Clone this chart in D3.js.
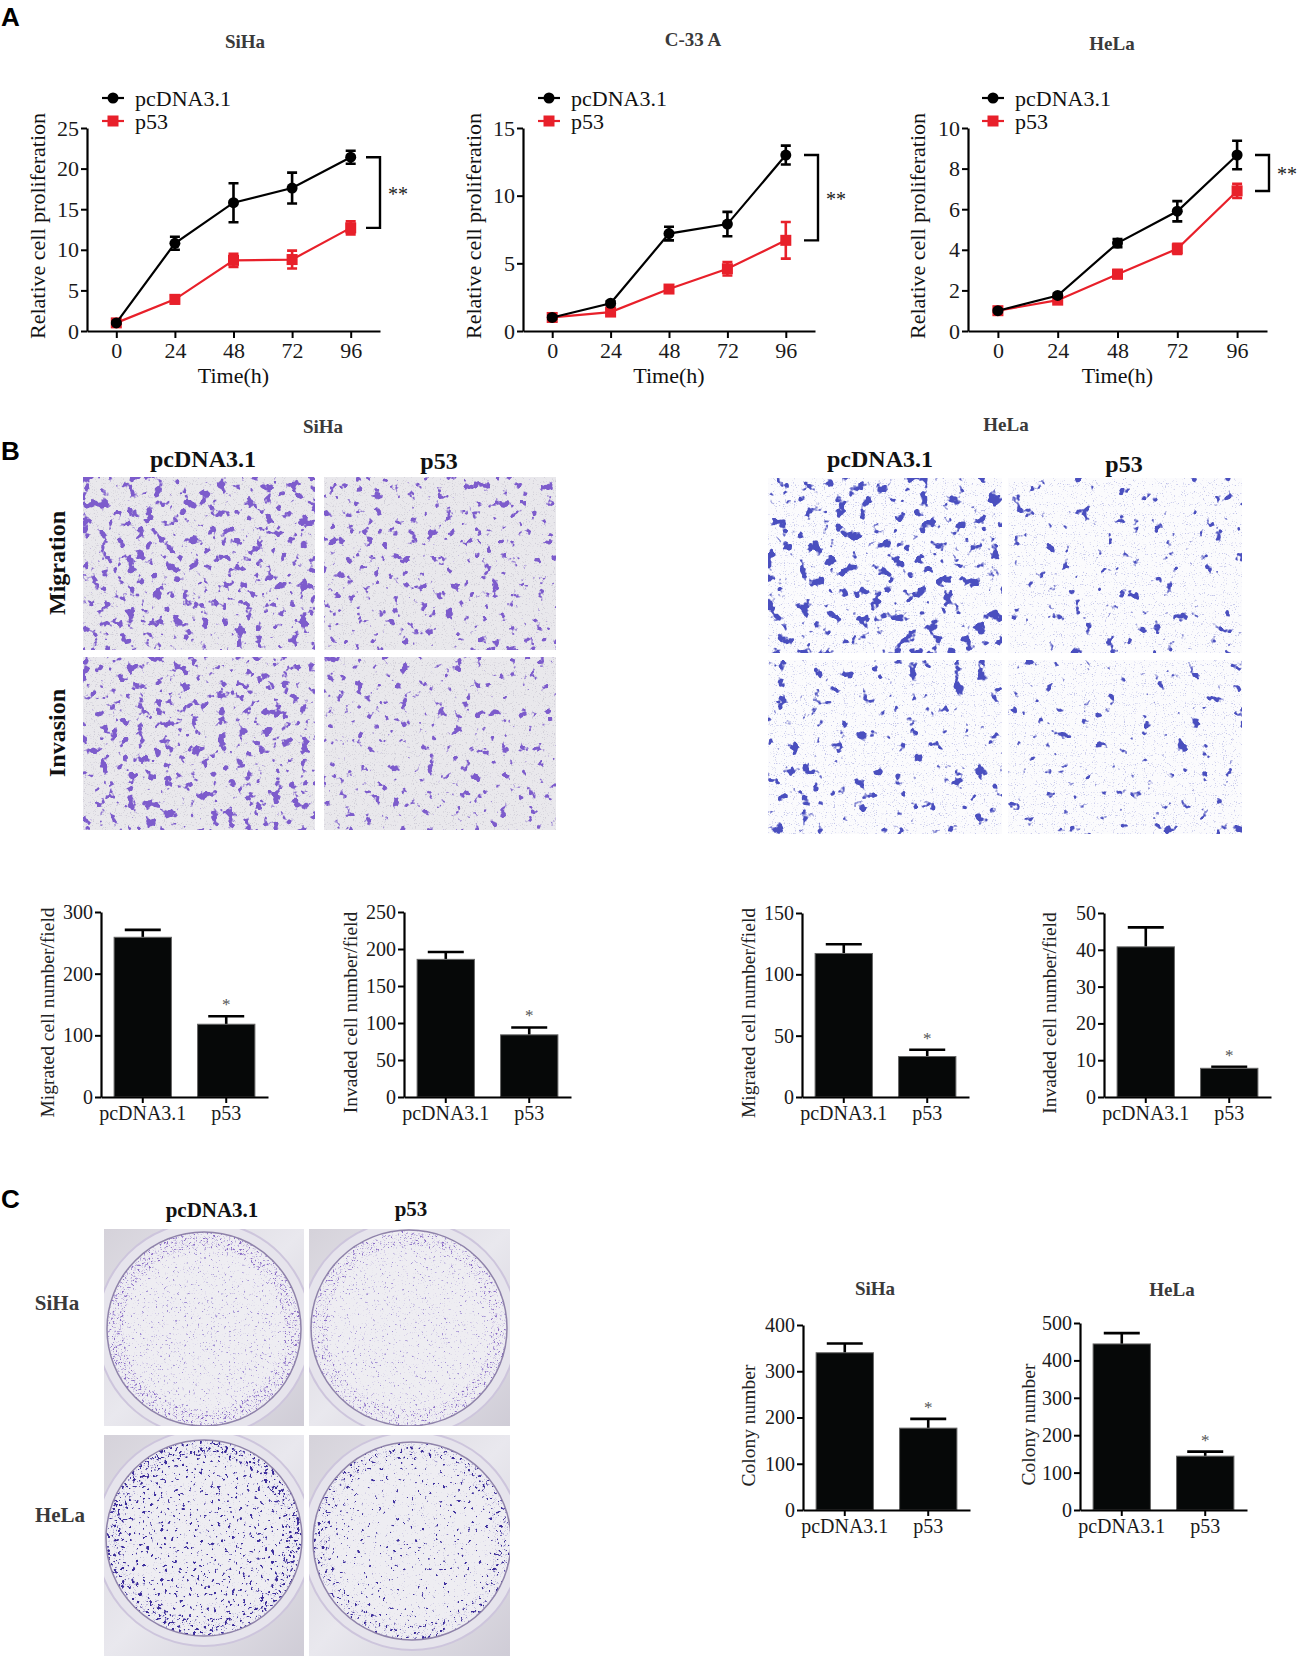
<!DOCTYPE html>
<html>
<head>
<meta charset="utf-8">
<script src="https://cdn.jsdelivr.net/npm/d3@7"></script>
<style>
  body { margin: 0; background: #fff; }
  svg { display: block; }
  text { font-family: "Liberation Serif", "Times New Roman", serif; }
</style>
</head>
<body>
<div id="app"></div>
<script>
// ---- data ----
const hours = [0, 24, 48, 72, 96]
const groups = ["pcDNA3.1", "p53"]

// A: relative cell proliferation
const sihaCtrl = [1, 10.8, 15.8, 17.6, 21.4]
const sihaCtrlErr = [0.1, 0.8, 2.4, 1.9, 0.8]
const sihaP53 = [1, 3.9, 8.7, 8.8, 12.7]
const sihaP53Err = [0.1, 0.5, 0.8, 1.1, 0.8]

const c33Ctrl = [1, 2.05, 7.2, 7.9, 13.0]
const c33CtrlErr = [0.1, 0.15, 0.5, 0.9, 0.7]
const c33P53 = [1, 1.4, 3.1, 4.6, 6.7]
const c33P53Err = [0.1, 0.15, 0.2, 0.5, 1.35]

const helaCtrl = [1, 1.75, 4.33, 5.9, 8.67]
const helaCtrlErr = [0.05, 0.1, 0.2, 0.5, 0.7]
const helaP53 = [1, 1.52, 2.8, 4.05, 6.9]
const helaP53Err = [0.05, 0.1, 0.2, 0.25, 0.35]

const sihaProlTicks = [0, 5, 10, 15, 20, 25]
const c33ProlTicks = [0, 5, 10, 15]
const helaProlTicks = [0, 2, 4, 6, 8, 10]

// B: transwell counts
const sihaMigrated = [259, 118]
const sihaMigratedErr = [12, 13]
const sihaInvaded = [186, 84]
const sihaInvadedErr = [10, 10]
const helaMigrated = [117, 33]
const helaMigratedErr = [7.5, 5.5]
const helaInvaded = [40.8, 7.8]
const helaInvadedErr = [5.3, 0.4]

const sihaMigTicks = [0, 100, 200, 300]
const sihaInvTicks = [0, 50, 100, 150, 200, 250]
const helaMigTicks = [0, 50, 100, 150]
const helaInvTicks = [0, 10, 20, 30, 40, 50]

// C: colony formation
const sihaColony = [340, 177]
const sihaColonyErr = [20, 20]
const helaColony = [444, 144]
const helaColonyErr = [29, 12]

const sihaColTicks = [0, 100, 200, 300, 400]
const helaColTicks = [0, 100, 200, 300, 400, 500]

// ---- drawing ----
const red = "#e8202a"
const titleColor = "#3a3a3a"
const serif = '"Liberation Serif", "Times New Roman", serif'

const svg = d3.select('#app').append('svg')
    .attr('width', 1299)
    .attr('height', 1656)
const defs = svg.append('defs')

function styleAxis(g, size) {
  g.attr('font-size', size).style('font-family', serif)
  g.select('.domain').attr('stroke-width', 2.2)
  g.selectAll('.tick line').attr('stroke-width', 2)
  g.selectAll('.tick text').attr('fill', '#1a1a1a')
}

function panelLetter(t, x, y) {
  svg.append('text').attr('x', x).attr('y', y).text(t)
    .style('font-family', 'Arial, "Liberation Sans", sans-serif')
    .attr('font-weight', 'bold').attr('font-size', 26)
}

function label(t, x, y, size, opts = {}) {
  const el = svg.append('text').text(t)
    .attr('font-size', size)
    .attr('text-anchor', 'middle')
    .attr('fill', opts.color || '#111')
    .attr('font-weight', opts.bold ? 'bold' : null)
  if (opts.rotate) {
    el.attr('transform', `translate(${x},${y}) rotate(-90)`)
      .attr('dominant-baseline', 'central')
  } else {
    el.attr('x', x).attr('y', y)
  }
  return el
}

// ---------- A: line charts ----------
function lineChart(o) {
  const g = svg.append('g')
  const x = d3.scaleLinear().domain([-12, 108]).range([o.left, o.right])
  const y = d3.scaleLinear().domain([0, o.ymax]).range([331, 128])

  g.append('g').attr('transform', `translate(${o.left},0)`)
    .call(d3.axisLeft(y).tickValues(o.yticks).tickSize(6).tickSizeOuter(0).tickPadding(2))
    .call(a => styleAxis(a, 22))
  g.append('g').attr('transform', 'translate(0,331)')
    .call(d3.axisBottom(x).tickValues(hours).tickSize(7).tickSizeOuter(0).tickPadding(4))
    .call(a => styleAxis(a, 22))

  const series = [
    { vals: o.p53, errs: o.p53Err, color: red, shape: 'square' },
    { vals: o.ctrl, errs: o.ctrlErr, color: '#000', shape: 'circle' }
  ]
  const line = d3.line().x((d, i) => x(hours[i])).y(d => y(d))

  series.forEach(s => {
    const sg = g.append('g')
    sg.append('path').datum(s.vals).attr('d', line)
      .attr('fill', 'none').attr('stroke', s.color).attr('stroke-width', 2.2)
    const pts = sg.selectAll('g.pt').data(s.vals).join('g').attr('class', 'pt')
    pts.append('path')
      .attr('d', (d, i) => {
        const cx = x(hours[i]), t = y(d + s.errs[i]), b = y(d - s.errs[i])
        return `M${cx - 5},${t}H${cx + 5}M${cx},${t}V${b}M${cx - 5},${b}H${cx + 5}`
      })
      .attr('stroke', s.color).attr('stroke-width', 2.6).attr('fill', 'none')
    if (s.shape === 'circle') {
      pts.append('circle').attr('cx', (d, i) => x(hours[i])).attr('cy', d => y(d))
        .attr('r', 5.5).attr('fill', s.color)
    } else {
      pts.append('rect').attr('x', (d, i) => x(hours[i]) - 5.5).attr('y', d => y(d) - 5.5)
        .attr('width', 11).attr('height', 11).attr('fill', s.color)
    }
  })

  // legend
  const lg = g.append('g')
  ;[{ name: groups[0], color: '#000', shape: 'circle', y: 98 },
    { name: groups[1], color: red, shape: 'square', y: 121 }].forEach(d => {
    lg.append('line').attr('x1', o.legendX).attr('x2', o.legendX + 22)
      .attr('y1', d.y).attr('y2', d.y).attr('stroke', d.color).attr('stroke-width', 2.2)
    if (d.shape === 'circle') {
      lg.append('circle').attr('cx', o.legendX + 11).attr('cy', d.y).attr('r', 5.5).attr('fill', d.color)
    } else {
      lg.append('rect').attr('x', o.legendX + 5.5).attr('y', d.y - 5.5)
        .attr('width', 11).attr('height', 11).attr('fill', d.color)
    }
    lg.append('text').attr('x', o.legendX + 33).attr('y', d.y + 7.5)
      .attr('font-size', 22).attr('fill', '#111').text(d.name)
  })

  label(o.title, o.titleX, o.titleY, 19, { bold: true, color: titleColor })
  label('Relative cell proliferation', o.ylabelX, 226, 22, { rotate: true })
  label('Time(h)', x(48), 383, 22)

  // significance bracket between the last points
  const top = y(o.ctrl[4]), bot = y(o.p53[4])
  g.append('path')
    .attr('d', `M${o.bracketX - 14},${top}H${o.bracketX}V${bot}H${o.bracketX - 14}`)
    .attr('fill', 'none').attr('stroke', '#000').attr('stroke-width', 2.4)
  g.append('text').attr('x', o.bracketX + 8).attr('y', (top + bot) / 2 + 8)
    .attr('font-size', 20).attr('fill', '#222').text('**')
}

lineChart({ left: 87, right: 380, ymax: 25, yticks: sihaProlTicks,
  ctrl: sihaCtrl, ctrlErr: sihaCtrlErr, p53: sihaP53, p53Err: sihaP53Err,
  legendX: 102, title: 'SiHa', titleX: 245, titleY: 48, ylabelX: 37, bracketX: 380 })
lineChart({ left: 523, right: 815, ymax: 15, yticks: c33ProlTicks,
  ctrl: c33Ctrl, ctrlErr: c33CtrlErr, p53: c33P53, p53Err: c33P53Err,
  legendX: 538, title: 'C-33 A', titleX: 693, titleY: 46, ylabelX: 473, bracketX: 818 })
lineChart({ left: 968, right: 1267, ymax: 10, yticks: helaProlTicks,
  ctrl: helaCtrl, ctrlErr: helaCtrlErr, p53: helaP53, p53Err: helaP53Err,
  legendX: 982, title: 'HeLa', titleX: 1112, titleY: 50, ylabelX: 917, bracketX: 1269 })

// ---------- bar charts (B and C) ----------
function barChart(o) {
  const g = svg.append('g')
  const x = d3.scaleBand().domain(groups).range([o.left, o.left + 167])
    .paddingInner(0.313).paddingOuter(0.157)
  const y = d3.scaleLinear().domain([0, o.ymax]).range([o.bottom, o.top])

  const data = groups.map((k, i) => ({ k, v: o.values[i], e: o.errs[i] }))
  g.selectAll('path.err').data(data).join('path').attr('class', 'err')
    .attr('d', d => {
      const cx = x(d.k) + x.bandwidth() / 2
      return `M${cx},${y(d.v)}V${y(d.v + d.e)}M${cx - 18},${y(d.v + d.e)}H${cx + 18}`
    })
    .attr('stroke', '#000').attr('stroke-width', 2.6).attr('fill', 'none')
  g.selectAll('rect.bar').data(data).join('rect').attr('class', 'bar')
    .attr('x', d => x(d.k)).attr('width', x.bandwidth())
    .attr('y', d => y(d.v)).attr('height', d => o.bottom - y(d.v))
    .attr('fill', '#060808').attr('stroke', '#666').attr('stroke-width', 1)
  // star over p53
  const p = data[1]
  g.append('text').attr('x', x(p.k) + x.bandwidth() / 2).attr('y', y(p.v + p.e) - 6)
    .attr('text-anchor', 'middle').attr('font-size', 17).attr('fill', '#555').text('*')

  g.append('g').attr('transform', `translate(${o.left},0)`)
    .call(d3.axisLeft(y).tickValues(o.ticks).tickSize(6).tickSizeOuter(0).tickPadding(2))
    .call(a => styleAxis(a, 20))
  g.append('g').attr('transform', `translate(0,${o.bottom})`)
    .call(d3.axisBottom(x).tickSize(6).tickSizeOuter(0).tickPadding(3))
    .call(a => styleAxis(a, 20))

  label(o.ylabel, o.labelX, (o.top + o.bottom) / 2 + 8, 19.5, { rotate: true, color: '#222' })
  if (o.title) label(o.title, o.titleX, o.titleY, 19, { bold: true, color: titleColor })
}

barChart({ left: 101, top: 912, bottom: 1097, ymax: 300, ticks: sihaMigTicks,
  values: sihaMigrated, errs: sihaMigratedErr, ylabel: 'Migrated cell number/field', labelX: 47 })
barChart({ left: 404, top: 912, bottom: 1097, ymax: 250, ticks: sihaInvTicks,
  values: sihaInvaded, errs: sihaInvadedErr, ylabel: 'Invaded cell number/field', labelX: 350 })
barChart({ left: 802, top: 913, bottom: 1097, ymax: 150, ticks: helaMigTicks,
  values: helaMigrated, errs: helaMigratedErr, ylabel: 'Migrated cell number/field', labelX: 748 })
barChart({ left: 1104, top: 913, bottom: 1097, ymax: 50, ticks: helaInvTicks,
  values: helaInvaded, errs: helaInvadedErr, ylabel: 'Invaded cell number/field', labelX: 1049 })

barChart({ left: 803, top: 1325, bottom: 1510, ymax: 400, ticks: sihaColTicks,
  values: sihaColony, errs: sihaColonyErr, ylabel: 'Colony number', labelX: 748,
  title: 'SiHa', titleX: 875, titleY: 1295 })
barChart({ left: 1080, top: 1323, bottom: 1510, ymax: 500, ticks: helaColTicks,
  values: helaColony, errs: helaColonyErr, ylabel: 'Colony number', labelX: 1028,
  title: 'HeLa', titleX: 1172, titleY: 1296 })

// ---------- photo panels (procedural texture, no data) ----------
function noiseFilter(id, o) {
  const f = defs.append('filter').attr('id', id)
    .attr('x', 0).attr('y', 0).attr('width', 1).attr('height', 1)
    .attr('color-interpolation-filters', 'sRGB')
  if (o.bg) f.append('feFlood').attr('flood-color', o.bg).attr('result', 'bg')
  // fine specks
  f.append('feTurbulence').attr('type', 'fractalNoise').attr('baseFrequency', o.grain)
    .attr('numOctaves', 1).attr('seed', o.seed + 11).attr('result', 'gn')
  f.append('feColorMatrix').attr('in', 'gn').attr('type', 'matrix')
    .attr('values', `0 0 0 0 0  0 0 0 0 0  0 0 0 0 0  ${o.gslope} 0 0 0 ${-o.gslope * o.gcut}`)
    .attr('result', 'ga')
  f.append('feFlood').attr('flood-color', o.speck).attr('flood-opacity', o.speckOpacity || 0.6).attr('result', 'sc')
  f.append('feComposite').attr('in', 'sc').attr('in2', 'ga').attr('operator', 'in').attr('result', 'specks')
  // blobs
  f.append('feTurbulence').attr('type', 'fractalNoise').attr('baseFrequency', o.freq)
    .attr('numOctaves', o.octaves || 3).attr('seed', o.seed).attr('result', 'n')
  f.append('feColorMatrix').attr('in', 'n').attr('type', 'matrix')
    .attr('values', `0 0 0 0 0  0 0 0 0 0  0 0 0 0 0  ${o.slope} 0 0 0 ${-o.slope * o.cut}`)
    .attr('result', 'a')
  f.append('feFlood').attr('flood-color', o.color).attr('result', 'c')
  f.append('feComposite').attr('in', 'c').attr('in2', 'a').attr('operator', 'in').attr('result', 'blobs')
  const m = f.append('feMerge')
  if (o.bg) m.append('feMergeNode').attr('in', 'bg')
  m.append('feMergeNode').attr('in', 'specks')
  m.append('feMergeNode').attr('in', 'blobs')
}

const transwellPanels = [
  { id: 'sm1', x: 83, y: 477, w: 232, h: 173, seed: 3, cut: 0.585, cell: 'siha' },
  { id: 'sm2', x: 324, y: 477, w: 232, h: 173, seed: 8, cut: 0.63, cell: 'siha' },
  { id: 'si1', x: 83, y: 657, w: 232, h: 173, seed: 14, cut: 0.595, cell: 'siha' },
  { id: 'si2', x: 324, y: 657, w: 232, h: 173, seed: 21, cut: 0.64, cell: 'siha' },
  { id: 'hm1', x: 768, y: 478, w: 234, h: 175, seed: 5, cut: 0.6, cell: 'hela' },
  { id: 'hm2', x: 1008, y: 478, w: 234, h: 175, seed: 9, cut: 0.67, cell: 'hela' },
  { id: 'hi1', x: 768, y: 660, w: 234, h: 174, seed: 17, cut: 0.65, cell: 'hela' },
  { id: 'hi2', x: 1008, y: 660, w: 234, h: 174, seed: 27, cut: 0.69, cell: 'hela' }
]
transwellPanels.forEach(p => {
  const siha = p.cell === 'siha'
  noiseFilter('f' + p.id, {
    bg: siha ? '#e9e8ec' : '#fbfbfd', seed: p.seed, cut: p.cut, slope: 14,
    freq: siha ? 0.11 : 0.085, color: siha ? '#7d5ccc' : '#4a4fbf',
    grain: 0.9, gslope: 8, gcut: siha ? 0.6 : 0.62,
    speck: siha ? '#b9b5c4' : '#8e92d8', speckOpacity: 0.5
  })
  svg.append('rect').attr('x', p.x).attr('y', p.y).attr('width', p.w).attr('height', p.h)
    .attr('fill', '#fff').attr('filter', `url(#f${p.id})`)
})

label('SiHa', 323, 433, 19, { bold: true, color: titleColor })
label('HeLa', 1006, 431, 19, { bold: true, color: titleColor })
label('pcDNA3.1', 203, 467, 24, { bold: true })
label('p53', 439, 469, 24, { bold: true })
label('pcDNA3.1', 880, 467, 24, { bold: true })
label('p53', 1124, 472, 24, { bold: true })
label('Migration', 57, 563, 24, { bold: true, rotate: true })
label('Invasion', 57, 733, 24, { bold: true, rotate: true })

// plates
const grad = defs.append('linearGradient').attr('id', 'plateGrad')
  .attr('x1', 0).attr('y1', 0).attr('x2', 1).attr('y2', 1)
grad.append('stop').attr('offset', 0).attr('stop-color', '#d5d2da')
grad.append('stop').attr('offset', 0.5).attr('stop-color', '#e9e8ee')
grad.append('stop').attr('offset', 1).attr('stop-color', '#cfccd6')

const platePanels = [
  { id: 'c1', x: 104, y: 1229, w: 200, h: 197, cx: 204, cy: 1329, r: 97, cut: 0.66, cell: 'siha', seed: 31 },
  { id: 'c2', x: 309, y: 1229, w: 201, h: 197, cx: 409, cy: 1328, r: 98, cut: 0.68, cell: 'siha', seed: 37 },
  { id: 'c3', x: 104, y: 1435, w: 200, h: 221, cx: 204, cy: 1538, r: 98, cut: 0.665, cell: 'hela', seed: 41 },
  { id: 'c4', x: 309, y: 1435, w: 201, h: 221, cx: 412, cy: 1541, r: 99, cut: 0.70, cell: 'hela', seed: 47 }
]
platePanels.forEach(p => {
  const siha = p.cell === 'siha'
  noiseFilter('f' + p.id, {
    seed: p.seed, cut: p.cut, slope: siha ? 8 : 16, freq: siha ? 0.45 : 0.28, octaves: siha ? 3 : 2,
    color: siha ? '#a08ed4' : '#3d2e9e', grain: 0.9, gslope: 6, gcut: 0.66,
    speck: siha ? '#b6a9d6' : '#8c82c4', speckOpacity: 0.5
  })
  noiseFilter('e' + p.id, {
    seed: p.seed + 3, cut: p.cut - 0.04, slope: siha ? 8 : 16, freq: siha ? 0.45 : 0.28, octaves: siha ? 3 : 2,
    color: siha ? '#8a6cc6' : '#3a2a98', grain: 0.9, gslope: 6, gcut: 0.62,
    speck: siha ? '#a690d4' : '#7c70c0', speckOpacity: 0.6
  })
  defs.append('clipPath').attr('id', 'k' + p.id).append('rect')
    .attr('x', p.x).attr('y', p.y).attr('width', p.w).attr('height', p.h)
  defs.append('clipPath').attr('id', 'd' + p.id).append('circle')
    .attr('cx', p.cx).attr('cy', p.cy).attr('r', p.r)
  const ring = defs.append('mask').attr('id', 'm' + p.id)
    .attr('maskUnits', 'userSpaceOnUse')
    .attr('x', p.cx - p.r).attr('y', p.cy - p.r).attr('width', 2 * p.r).attr('height', 2 * p.r)
  ring.append('circle').attr('cx', p.cx).attr('cy', p.cy).attr('r', p.r - 8)
    .attr('fill', 'none').attr('stroke', '#fff').attr('stroke-width', 16)

  const g = svg.append('g').attr('clip-path', `url(#k${p.id})`)
  g.append('rect').attr('x', p.x).attr('y', p.y).attr('width', p.w).attr('height', p.h)
    .attr('fill', 'url(#plateGrad)')
  g.append('circle').attr('cx', p.cx).attr('cy', p.cy).attr('r', p.r + 10)
    .attr('fill', '#e6e4ec').attr('stroke', '#cdc5dc').attr('stroke-width', 2)
  g.append('circle').attr('cx', p.cx).attr('cy', p.cy).attr('r', p.r)
    .attr('fill', '#eeedf2')
  g.append('rect').attr('x', p.cx - p.r).attr('y', p.cy - p.r).attr('width', 2 * p.r).attr('height', 2 * p.r)
    .attr('fill', '#fff').attr('filter', `url(#f${p.id})`).attr('clip-path', `url(#d${p.id})`)
  g.append('rect').attr('x', p.cx - p.r).attr('y', p.cy - p.r).attr('width', 2 * p.r).attr('height', 2 * p.r)
    .attr('fill', '#fff').attr('filter', `url(#e${p.id})`).attr('mask', `url(#m${p.id})`)
  g.append('circle').attr('cx', p.cx).attr('cy', p.cy).attr('r', p.r)
    .attr('fill', 'none').attr('stroke', '#8f83aa').attr('stroke-width', 1.5)
})

label('pcDNA3.1', 212, 1217, 21, { bold: true })
label('p53', 411, 1216, 21, { bold: true })
label('SiHa', 57, 1310, 21, { bold: true, color: titleColor })
label('HeLa', 60, 1522, 21, { bold: true, color: titleColor })

panelLetter('A', 1, 26)
panelLetter('B', 1, 460)
panelLetter('C', 1, 1208)
</script>
</body>
</html>
